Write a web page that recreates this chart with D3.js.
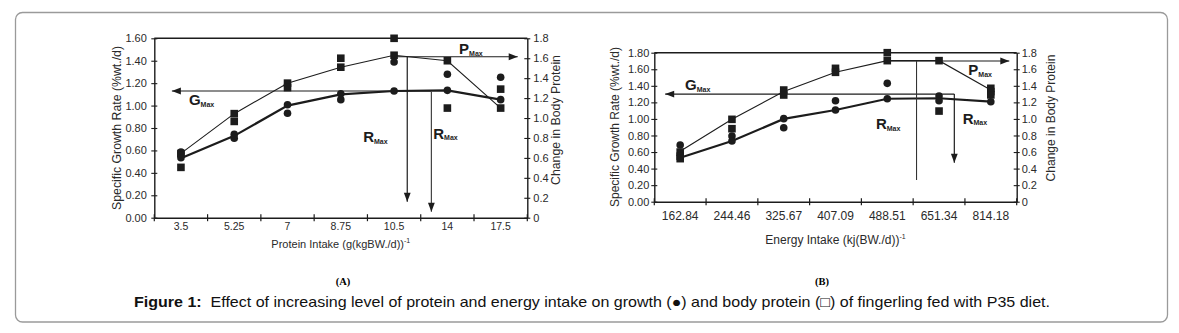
<!DOCTYPE html>
<html><head><meta charset="utf-8">
<script src="https://cdn.jsdelivr.net/npm/d3@7"></script>
<style>
body{margin:0;background:#fff}
svg{display:block}
text{font-family:"Liberation Sans",Arial,sans-serif}
</style>
</head><body>
<svg id="c" width="1179" height="333"></svg>
<script>
// ---------- DATA ----------
const catsA = ["3.5","5.25","7","8.75","10.5","14","17.5"];
const leftTicksA = [0,0.2,0.4,0.6,0.8,1.0,1.2,1.4,1.6];
const rightTicks = [0,0.2,0.4,0.6,0.8,1.0,1.2,1.4,1.6,1.8];
// growth (circles, left axis) replicates per category
const growthRepA = [[0.585,0.56,0.535],[0.743,0.708],[1.008,0.931],[1.106,1.053],[1.389,1.13],[1.279,1.136],[1.252,1.053]];
const growthLineA = [0.53,0.73,1.00,1.10,1.13,1.135,1.053];
// body protein (squares, right axis) replicates per category
const proteinRepA = [[0.645,0.505],[1.044,0.966],[1.35,1.305],[1.60,1.51],[1.80,1.63],[1.575,1.10],[1.29,1.10]];
const proteinLineA = [0.645,1.044,1.35,1.51,1.63,1.575,1.10];

const catsB = ["162.84","244.46","325.67","407.09","488.51","651.34","814.18"];
const leftTicksB = [0,0.2,0.4,0.6,0.8,1.0,1.2,1.4,1.6,1.8];
const growthRepB = [[0.685],[0.793,0.733],[1.003,0.894],[1.22,1.108],[1.43,1.244],[1.277,1.22],[1.208]];
const growthLineB = [0.53,0.733,1.00,1.108,1.244,1.25,1.208];
const proteinRepB = [[0.60,0.55,0.52],[0.995,0.882],[1.349,1.289],[1.611,1.563],[1.80,1.704],[1.704,1.095],[1.37,1.33,1.29]];
const proteinLineB = [0.61,0.995,1.33,1.563,1.704,1.704,1.35];

// annotation values (category index, data units)
const annotA = {gVal:1.13, gFrom:-0.17, gTo:4.70, pVal:1.615, pFrom:4, pTo:6.32,
  r1x:4.247, r1to:0.143, r2x:4.70, r2to:0.054,
  gLab:[0.15,1.005], pLab:[5.22,1.64], r1Lab:[3.42,0.673], r2Lab:[4.735,0.702]};
const annotB = {gVal:1.30, gFrom:-0.29, gTo:5.295, pVal:1.70, pFrom:4, pTo:6.357,
  vx:4.565, vto:0.262, rx:5.295, rto:0.471,
  gLab:[0.093,1.349], pLab:[5.565,1.53], r1Lab:[3.78,0.878], r2Lab:[5.457,0.939]};

// ---------- DRAW ----------
const svg = d3.select("#c");
const INK = "#1c1c1c";

svg.append("rect").attr("x",15.5).attr("y",12.5).attr("width",1152).attr("height",309.5)
  .attr("rx",7).attr("fill","none").attr("stroke","#9a9a9a").attr("stroke-width",1.3);

function arrowHead(g, x, y, dir){
  const L=9, W=3.4;
  let p;
  if(dir==="left") p=[[x,y],[x+L,y-W],[x+L,y+W]];
  else if(dir==="right") p=[[x,y],[x-L,y-W],[x-L,y+W]];
  else p=[[x,y],[x-W,y-L],[x+W,y-L]];
  g.append("path").attr("d","M"+p.map(d=>d.join(",")).join("L")+"Z").attr("fill",INK);
}
function maxLabel(g, x, y, letter){
  const t = g.append("text").attr("x",x).attr("y",y).attr("fill",INK).attr("font-weight","bold");
  t.append("tspan").attr("font-size",15).text(letter);
  t.append("tspan").attr("font-size",7).attr("dy",1.5).text("Max");
}

function panel(cfg){
  const g = svg.append("g");
  const {l,r,t,b} = cfg;
  const n = cfg.cats.length;
  const x = d3.scaleBand().domain(cfg.cats).range([l,r]).padding(0);
  const xi = d3.scaleLinear().domain([-0.5,n-0.5]).range([l,r]);
  const yL = d3.scaleLinear().domain([0,cfg.leftMax]).range([b,t]);
  const yR = d3.scaleLinear().domain([0,1.8]).range([b,t]);

  g.append("line").attr("x1",l).attr("x2",r).attr("y1",t).attr("y2",t)
    .attr("stroke",INK).attr("stroke-width",1.6);

  const la = g.append("g").attr("transform",`translate(${l},0)`)
    .call(d3.axisLeft(yL).tickValues(cfg.leftTicks).tickFormat(d3.format(".2f"))
      .tickSize(3).tickSizeOuter(0).tickPadding(cfg.lPad));
  la.selectAll(".tick line").attr("x1",-3).attr("x2",3);
  const ra = g.append("g").attr("transform",`translate(${r},0)`)
    .call(d3.axisRight(yR).tickValues(rightTicks).tickFormat(d=>d===0?"0":d.toFixed(1))
      .tickSize(3).tickSizeOuter(0).tickPadding(cfg.rPad));
  ra.selectAll(".tick line").attr("x1",-3).attr("x2",3);
  const ba = g.append("g").attr("transform",`translate(0,${b})`)
    .call(d3.axisBottom(x).tickSize(0).tickSizeOuter(0).tickPadding(cfg.xPad));
  const bounds = d3.range(n+1).map(i=>i-0.5);
  ba.selectAll(".bt").data(bounds).enter().append("line")
    .attr("x1",d=>xi(d)).attr("x2",d=>xi(d)).attr("y1",-3.5).attr("y2",3.5)
    .attr("stroke",INK).attr("stroke-width",1.2);

  [la,ra,ba].forEach(a=>{
    a.select(".domain").attr("stroke",INK).attr("stroke-width",1.4);
    a.selectAll(".tick line").attr("stroke",INK).attr("stroke-width",1.1);
    a.selectAll(".tick text").attr("fill","#2a2a2a").attr("font-family",'"Liberation Sans",Arial,sans-serif');
  });
  la.selectAll(".tick text").attr("font-size",cfg.yFont);
  ra.selectAll(".tick text").attr("font-size",cfg.yFont);
  ba.selectAll(".tick text").attr("font-size",cfg.xFont);

  g.append("text").attr("x",(l+r)/2).attr("y",cfg.xTitleY).attr("text-anchor","middle")
    .attr("font-size",cfg.xTitleFont).attr("fill","#2a2a2a")
    .call(s=>{s.append("tspan").text(cfg.xTitle); s.append("tspan").attr("font-size",7).attr("dy",-5).text("-1");});
  g.append("text").attr("transform",`translate(${cfg.yTitleX},${cfg.yTitleCY}) rotate(-90)`)
    .attr("text-anchor","middle").attr("font-size",cfg.yTitleFont).attr("fill","#2a2a2a")
    .text("Specific Growth Rate (%wt./d)");
  g.append("text").attr("transform",`translate(${cfg.rTitleX},${cfg.rTitleCY}) rotate(-90)`)
    .attr("text-anchor","middle").attr("font-size",cfg.yTitleFont).attr("fill","#2a2a2a")
    .text("Change in Body Protein");

  const lineL = d3.line().x((d,i)=>xi(i)).y(d=>yL(d));
  const lineR = d3.line().x((d,i)=>xi(i)).y(d=>yR(d));
  g.append("path").attr("d",lineR(cfg.proteinLine)).attr("fill","none").attr("stroke",INK).attr("stroke-width",1.1);
  g.append("path").attr("d",lineL(cfg.growthLine)).attr("fill","none").attr("stroke",INK).attr("stroke-width",2.2);

  const sq = [];
  cfg.proteinRep.forEach((arr,i)=>arr.forEach(v=>sq.push([i,v])));
  g.selectAll(".sq").data(sq).enter().append("rect")
    .attr("x",d=>xi(d[0])-3.8).attr("y",d=>yR(d[1])-3.8).attr("width",7.6).attr("height",7.6).attr("fill",INK);
  const ci = [];
  cfg.growthRep.forEach((arr,i)=>arr.forEach(v=>ci.push([i,v])));
  g.selectAll(".ci").data(ci).enter().append("circle")
    .attr("cx",d=>xi(d[0])).attr("cy",d=>yL(d[1])).attr("r",3.8).attr("fill",INK);

  return {g,xi,yL,yR};
}

// ----- panel A -----
const A = panel({cats:catsA,l:154.3,r:527.3,t:38.3,b:217.7,leftMax:1.6,leftTicks:leftTicksA,
  growthRep:growthRepA,growthLine:growthLineA,proteinRep:proteinRepA,proteinLine:proteinLineA,
  xPad:5,lPad:4.5,rPad:3,yFont:11,xFont:10.5,xTitleFont:11,yTitleFont:12.3,
  xTitle:"Protein Intake (g(kgBW./d))",xTitleY:248,
  yTitleX:121,yTitleCY:128,rTitleX:560,rTitleCY:120});
(function(){
  const {g,xi,yL,yR} = A, a = annotA;
  const gy = yL(a.gVal), py = yR(a.pVal);
  g.append("line").attr("x1",xi(a.gFrom)).attr("x2",xi(a.gTo)).attr("y1",gy).attr("y2",gy).attr("stroke",INK).attr("stroke-width",1.2);
  arrowHead(g,xi(a.gFrom),gy,"left");
  g.append("line").attr("x1",xi(a.pFrom)).attr("x2",xi(a.pTo)).attr("y1",py).attr("y2",py).attr("stroke",INK).attr("stroke-width",1.2);
  arrowHead(g,xi(a.pTo),py,"right");
  g.append("line").attr("x1",xi(a.r1x)).attr("x2",xi(a.r1x)).attr("y1",py).attr("y2",yL(a.r1to)).attr("stroke",INK).attr("stroke-width",1.2);
  arrowHead(g,xi(a.r1x),yL(a.r1to),"down");
  g.append("line").attr("x1",xi(a.r2x)).attr("x2",xi(a.r2x)).attr("y1",gy).attr("y2",yL(a.r2to)).attr("stroke","#444").attr("stroke-width",1.2);
  arrowHead(g,xi(a.r2x),yL(a.r2to),"down");
  maxLabel(g,xi(a.gLab[0]),yL(a.gLab[1]),"G");
  maxLabel(g,xi(a.pLab[0]),yR(a.pLab[1]),"P");
  maxLabel(g,xi(a.r1Lab[0]),yL(a.r1Lab[1]),"R");
  maxLabel(g,xi(a.r2Lab[0]),yL(a.r2Lab[1]),"R");
})();

// ----- panel B -----
const B = panel({cats:catsB,l:654.3,r:1016.7,t:52.7,b:201.7,leftMax:1.8,leftTicks:leftTicksB,
  growthRep:growthRepB,growthLine:growthLineB,proteinRep:proteinRepB,proteinLine:proteinLineB,
  xPad:10,lPad:2,rPad:2,yFont:11,xFont:12,xTitleFont:12,yTitleFont:12,
  xTitle:"Energy Intake (kj(BW./d))",xTitleY:243.5,
  yTitleX:619,yTitleCY:127,rTitleX:1055,rTitleCY:118});
(function(){
  const {g,xi,yL,yR} = B, a = annotB;
  const gy = yL(a.gVal), py = yR(a.pVal);
  g.append("line").attr("x1",xi(a.gFrom)).attr("x2",xi(a.gTo)).attr("y1",gy).attr("y2",gy).attr("stroke",INK).attr("stroke-width",1.2);
  arrowHead(g,xi(a.gFrom),gy,"left");
  g.append("line").attr("x1",xi(a.pFrom)).attr("x2",xi(a.pTo)).attr("y1",py).attr("y2",py).attr("stroke",INK).attr("stroke-width",1.2);
  arrowHead(g,xi(a.pTo),py,"right");
  g.append("line").attr("x1",xi(a.vx)).attr("x2",xi(a.vx)).attr("y1",py).attr("y2",yL(a.vto)).attr("stroke","#333").attr("stroke-width",1.1);
  g.append("line").attr("x1",xi(a.rx)).attr("x2",xi(a.rx)).attr("y1",gy).attr("y2",yL(a.rto)).attr("stroke",INK).attr("stroke-width",1.2);
  arrowHead(g,xi(a.rx),yL(a.rto),"down");
  maxLabel(g,xi(a.gLab[0]),yL(a.gLab[1]),"G");
  maxLabel(g,xi(a.pLab[0]),yR(a.pLab[1]),"P");
  maxLabel(g,xi(a.r1Lab[0]),yL(a.r1Lab[1]),"R");
  maxLabel(g,xi(a.r2Lab[0]),yL(a.r2Lab[1]),"R");
})();

// panel letters and caption
svg.append("text").attr("x",343).attr("y",285).attr("text-anchor","middle").attr("font-size",10.5)
  .style("font-family",'"Liberation Serif","Times New Roman",serif').attr("font-weight","bold").text("(A)");
svg.append("text").attr("x",822).attr("y",285).attr("text-anchor","middle").attr("font-size",10.5)
  .style("font-family",'"Liberation Serif","Times New Roman",serif').attr("font-weight","bold").text("(B)");
const cap = svg.append("text").attr("x",134).attr("y",307).attr("font-size",14.5).attr("fill","#111")
  .attr("textLength",916).attr("lengthAdjust","spacingAndGlyphs");
cap.append("tspan").attr("font-weight","bold").text("Figure 1:");
cap.append("tspan").text("\u00a0 Effect of increasing level of protein and energy intake on growth (\u25cf) and body protein (\u25a1) of fingerling fed with P35 diet.");
</script>
</body></html>
